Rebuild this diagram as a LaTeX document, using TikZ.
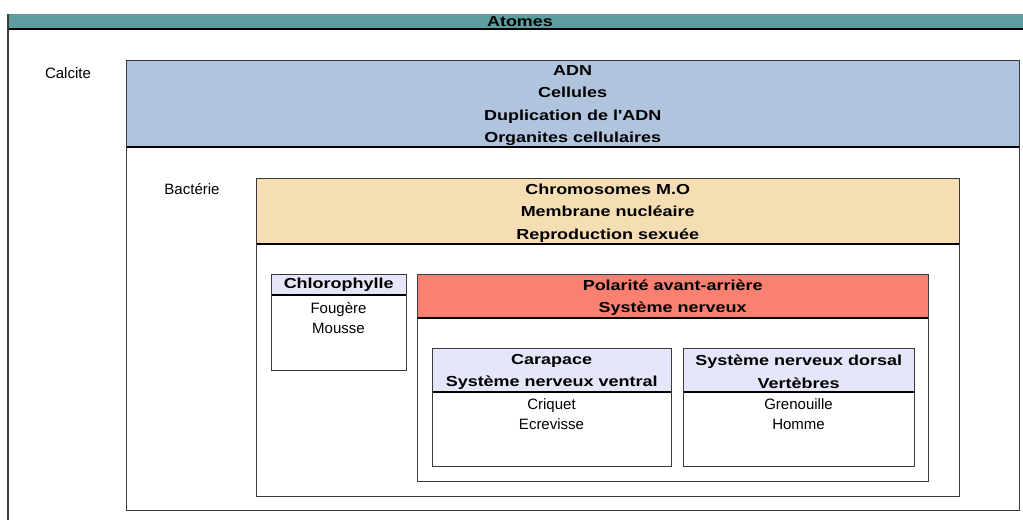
\documentclass[tikz,border=0pt]{standalone}
\usepackage{fontspec}
\setmainfont{Liberation Sans}
\newfontfamily\hdrfont{Liberation Sans Bold}[FakeStretch=1.24]
\definecolor{teal1}{HTML}{5F9EA0}
\definecolor{calblue}{HTML}{B0C4DE}
\definecolor{wheat1}{HTML}{F5DEB3}
\definecolor{salmon1}{HTML}{FA8072}
\definecolor{lav}{HTML}{E6E6FA}
\definecolor{boxline}{HTML}{3A3A3A}
\tikzset{
  frame/.style={draw=boxline, line width=1.4bp, anchor=north west, inner sep=0pt},
  hdr/.style={fill=#1, anchor=north west, inner sep=0pt},
  htext/.style={inner sep=0pt, align=center,
    font=\hdrfont\fontsize{14.5bp}{22.5bp}\selectfont},
  sepline/.style={line width=2.2bp, black},
  body/.style={align=center, inner sep=0pt, font=\fontsize{15bp}{20bp}\selectfont},
  lbl/.style={inner sep=0pt, font=\fontsize{15bp}{20bp}\selectfont}
}
\begin{document}
\begin{tikzpicture}[x=1bp,y=-1bp]
\useasboundingbox[fill=white] (0,0) rectangle (1023,520);
% outer frame (Atomes)
\node[hdr=teal1, minimum width=1030bp, minimum height=15bp] (atomes) at (8,14) {};
\node[htext] (atomest) at (520,22) {Atomes};
\draw[sepline] (atomes.south west) -- (atomes.south east);
\coordinate (outerbl) at (8,522);
\draw[boxline, line width=1.4bp] (atomes.north west) -- (outerbl);
% Calcite
\node[lbl] (calcitel) at (68,73) {Calcite};
\node[hdr=calblue, minimum width=893bp, minimum height=87bp] (calh) at (126,60) {};
\node[htext] (calt) at ([yshift=-2bp]calh.center)
  {ADN\\Cellules\\Duplication de l'ADN\\Organites cellulaires};
\draw[sepline] (calh.south west) -- (calh.south east);
\node[frame, minimum width=893bp, minimum height=450bp] (cal) at (126,60) {};
% Bacterie
\node[lbl] (bactl) at (192,189) {Bactérie};
\node[hdr=wheat1, minimum width=703bp, minimum height=66bp] (bach) at (256,178) {};
\node[htext] (bact) at ([yshift=-2bp]bach.center)
  {Chromosomes M.O\\Membrane nucléaire\\Reproduction sexuée};
\draw[sepline] (bach.south west) -- (bach.south east);
\node[frame, minimum width=703bp, minimum height=318bp] (bac) at (256,178) {};
% Chlorophylle
\node[hdr=lav, minimum width=135bp, minimum height=21bp] (chlh) at (271,274) {};
\node[htext] (chlt) at ([yshift=-0.5bp]chlh.center) {Chlorophylle};
\draw[sepline] (chlh.south west) -- (chlh.south east);
\node[frame, minimum width=135bp, minimum height=96bp] (chl) at (271,274) {};
\node[body] (chlb) at (338.5,318) {Fougère\\Mousse};
% Polarite
\node[hdr=salmon1, minimum width=511bp, minimum height=44bp] (polh) at (417,274) {};
\node[htext] (polt) at ([yshift=-1.5bp]polh.center)
  {Polarité avant-arrière\\Système nerveux};
\draw[sepline] (polh.south west) -- (polh.south east);
\node[frame, minimum width=511bp, minimum height=207bp] (pol) at (417,274) {};
% Carapace
\node[hdr=lav, minimum width=239bp, minimum height=44bp] (carh) at (432,348) {};
\node[htext] (cart) at ([yshift=-1.5bp]carh.center)
  {Carapace\\Système nerveux ventral};
\draw[sepline] (carh.south west) -- (carh.south east);
\node[frame, minimum width=239bp, minimum height=118bp] (car) at (432,348) {};
\node[body] (carb) at (551.5,414) {Criquet\\Ecrevisse};
% Dorsal
\node[hdr=lav, minimum width=231bp, minimum height=44bp] (dorh) at (683,348) {};
\node[htext] (dort) at ([yshift=-1.5bp]dorh.center)
  {Système nerveux dorsal\\Vertèbres};
\draw[sepline] (dorh.south west) -- (dorh.south east);
\node[frame, minimum width=231bp, minimum height=118bp] (dor) at (683,348) {};
\node[body] (dorb) at (798.5,414) {Grenouille\\Homme};
\end{tikzpicture}
\end{document}
